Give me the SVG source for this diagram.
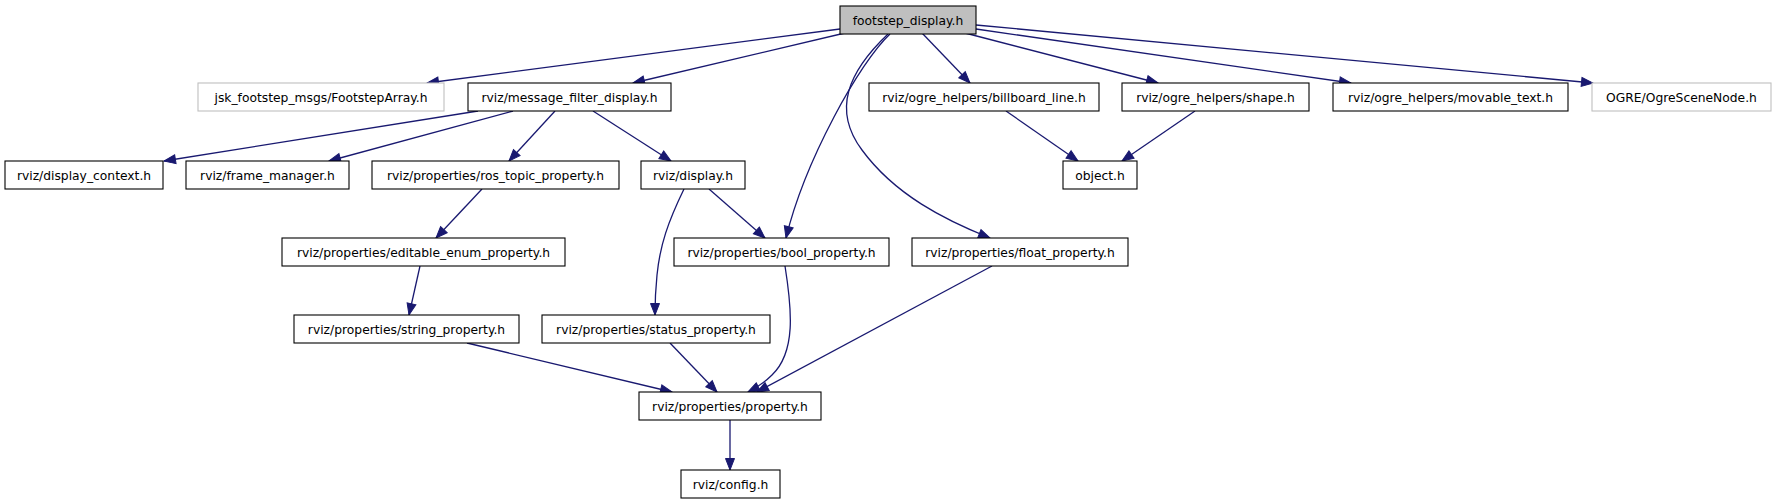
<svg xmlns="http://www.w3.org/2000/svg" width="1776" height="504" viewBox="0 0 1776 504">
<defs>
<style>
.n rect{fill:#ffffff;stroke:#000000;stroke-width:1.1}
.n.root rect{fill:#bfbfbf}
.n.ext rect{stroke:#bfbfbf}
.n text{font-family:"DejaVu Sans","Liberation Sans",sans-serif;font-size:12.3px;fill:#000000;text-anchor:middle}
.e path,.e line{fill:none;stroke:#191970;stroke-width:1.3;marker-end:url(#ah)}
</style>
<marker id="ah" markerUnits="userSpaceOnUse" markerWidth="14" markerHeight="12" refX="11.5" refY="5" orient="auto" viewBox="-1 -1 14 12">
<path d="M0,0.5 L11.5,5 L0,9.5 z" fill="#191970" stroke="#191970" stroke-width="1"/>
</marker>
</defs>
<rect width="1776" height="504" fill="#ffffff"/>
<g id="connectors" class="e">
<line x1="840" y1="29" x2="427" y2="83"/>
<line x1="845" y1="33" x2="633" y2="83"/>
<path d="M890,34 C860,62 805,160 786,238"/>
<path d="M888,34 C848,72 832,110 862,150 C895,195 945,220 990,238"/>
<line x1="922" y1="33" x2="970" y2="83"/>
<line x1="965" y1="33" x2="1158" y2="83"/>
<line x1="976" y1="29" x2="1351" y2="83"/>
<line x1="976" y1="25" x2="1593" y2="83"/>
<line x1="478" y1="111" x2="164" y2="161"/>
<line x1="513" y1="111" x2="329" y2="161"/>
<line x1="555" y1="111" x2="509" y2="161"/>
<line x1="593" y1="111" x2="671" y2="161"/>
<line x1="1006" y1="111" x2="1078" y2="161"/>
<line x1="1195" y1="111" x2="1122" y2="161"/>
<line x1="482" y1="189" x2="436" y2="238"/>
<line x1="420" y1="266" x2="409" y2="315"/>
<line x1="709" y1="189" x2="765" y2="238"/>
<path d="M684,189 C668,222 660,245 657,275 C655,295 655,305 655,315"/>
<path d="M785,266 C792,310 796,352 772,375 C765,382 756,388 748,392"/>
<line x1="992" y1="266" x2="757" y2="392"/>
<line x1="467" y1="343" x2="672" y2="392"/>
<line x1="670" y1="343" x2="717" y2="392"/>
<line x1="730" y1="420" x2="730" y2="470"/>
</g>
<g id="n_footstep_display" class="n root"><rect x="840" y="6" width="136" height="28"/><text x="908" y="24.5">footstep_display.h</text></g>
<g id="n_jsk_footsteparray" class="n ext"><rect x="198" y="83" width="246" height="28"/><text x="321" y="101.5">jsk_footstep_msgs/FootstepArray.h</text></g>
<g id="n_message_filter_display" class="n"><rect x="468" y="83" width="203" height="28"/><text x="569.5" y="101.5">rviz/message_filter_display.h</text></g>
<g id="n_billboard_line" class="n"><rect x="869" y="83" width="230" height="28"/><text x="984" y="101.5">rviz/ogre_helpers/billboard_line.h</text></g>
<g id="n_shape" class="n"><rect x="1122" y="83" width="187" height="28"/><text x="1215.5" y="101.5">rviz/ogre_helpers/shape.h</text></g>
<g id="n_movable_text" class="n"><rect x="1333" y="83" width="235" height="28"/><text x="1450.5" y="101.5">rviz/ogre_helpers/movable_text.h</text></g>
<g id="n_ogrescenenode" class="n ext"><rect x="1592" y="83" width="179" height="28"/><text x="1681.5" y="101.5">OGRE/OgreSceneNode.h</text></g>
<g id="n_display_context" class="n"><rect x="5" y="161" width="158" height="28"/><text x="84" y="179.5">rviz/display_context.h</text></g>
<g id="n_frame_manager" class="n"><rect x="186" y="161" width="163" height="28"/><text x="267.5" y="179.5">rviz/frame_manager.h</text></g>
<g id="n_ros_topic_property" class="n"><rect x="372" y="161" width="247" height="28"/><text x="495.5" y="179.5">rviz/properties/ros_topic_property.h</text></g>
<g id="n_display" class="n"><rect x="641" y="161" width="104" height="28"/><text x="693" y="179.5">rviz/display.h</text></g>
<g id="n_object" class="n"><rect x="1063" y="161" width="74" height="28"/><text x="1100" y="179.5">object.h</text></g>
<g id="n_editable_enum_property" class="n"><rect x="282" y="238" width="283" height="28"/><text x="423.5" y="256.5">rviz/properties/editable_enum_property.h</text></g>
<g id="n_bool_property" class="n"><rect x="674" y="238" width="215" height="28"/><text x="781.5" y="256.5">rviz/properties/bool_property.h</text></g>
<g id="n_float_property" class="n"><rect x="912" y="238" width="216" height="28"/><text x="1020" y="256.5">rviz/properties/float_property.h</text></g>
<g id="n_string_property" class="n"><rect x="294" y="315" width="225" height="28"/><text x="406.5" y="333.5">rviz/properties/string_property.h</text></g>
<g id="n_status_property" class="n"><rect x="542" y="315" width="228" height="28"/><text x="656" y="333.5">rviz/properties/status_property.h</text></g>
<g id="n_property" class="n"><rect x="639" y="392" width="182" height="28"/><text x="730" y="410.5">rviz/properties/property.h</text></g>
<g id="n_config" class="n"><rect x="681" y="470" width="99" height="28"/><text x="730.5" y="488.5">rviz/config.h</text></g>
</svg>
